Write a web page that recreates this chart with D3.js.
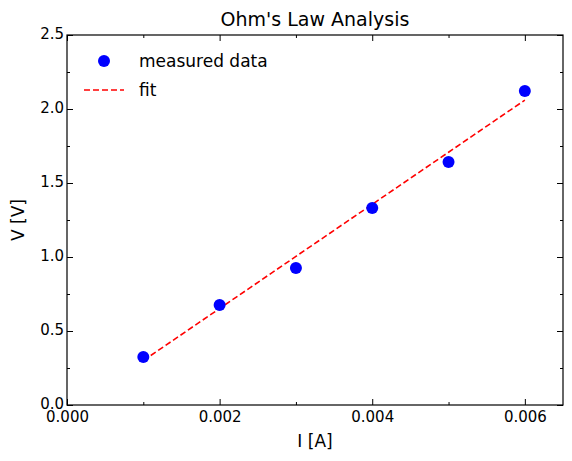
<!DOCTYPE html>
<html><head><meta charset="utf-8">
<script src="https://cdn.jsdelivr.net/npm/d3@7"></script>
<style>body{margin:0;background:#fff}svg{font-family:"DejaVu Sans",sans-serif}</style>
</head><body><svg id="c" width="572" height="461"></svg>
<script>
const current = [0.001, 0.002, 0.003, 0.004, 0.005, 0.006];
const voltage = [0.324, 0.676, 0.926, 1.331, 1.642, 2.122];
const fitV = [0.300, 0.652, 1.004, 1.356, 1.708, 2.060];
const xTicks = [0, 0.002, 0.004, 0.006];
const yTicks = [0, 0.5, 1.0, 1.5, 2.0, 2.5];
const xMinor = [0.001, 0.003, 0.005];
const yMinor = [0.25, 0.75, 1.25, 1.75, 2.25];

const L=67,R=563,T=35,B=405;
const svg=d3.select("#c");
const x=d3.scaleLinear().domain([0,0.0065]).range([L,R]);
const y=d3.scaleLinear().domain([0,2.5]).range([B,T]);
const g=svg.append("g");
function ax(gen,tr,ticks,size,fmt,showLabels){
  const a=g.append("g").attr("transform",tr).call(gen.tickValues(ticks).tickSize(-size).tickSizeOuter(0).tickFormat(showLabels?fmt:""));
  a.attr("font-size",null).attr("font-family",null);
  a.select(".domain").remove();
  a.selectAll("line").attr("stroke","#000").attr("stroke-width",1);
  a.selectAll("text").style("font-size","15px").attr("fill","#000");
  return a;
}
const fx=d3.format(".3f"), fy=d3.format(".1f");
ax(d3.axisBottom(x),`translate(0,${B})`,xTicks,6,fx,true).selectAll("text").attr("dy","0.9em");
ax(d3.axisBottom(x),`translate(0,${B})`,xMinor,3,fx,false);
ax(d3.axisTop(x),`translate(0,${T})`,xTicks,6,fx,false);
ax(d3.axisTop(x),`translate(0,${T})`,xMinor,3,fx,false);
ax(d3.axisLeft(y),`translate(${L},0)`,yTicks,6,fy,true).selectAll("text").attr("dy","0.2em");
ax(d3.axisLeft(y),`translate(${L},0)`,yMinor,3,fy,false);
ax(d3.axisRight(y),`translate(${R},0)`,yTicks,6,fy,false);
ax(d3.axisRight(y),`translate(${R},0)`,yMinor,3,fy,false);
g.append("rect").attr("x",L).attr("y",T).attr("width",R-L).attr("height",B-T).attr("fill","none").attr("stroke","#000").attr("stroke-width",1.2);

svg.append("path").datum(current.map((c,i)=>[c,fitV[i]]))
  .attr("d",d3.line().x(d=>x(d[0])).y(d=>y(d[1])))
  .attr("fill","none").attr("stroke","#ff0000").attr("stroke-width",1.6).attr("stroke-dasharray","6,3");
svg.selectAll("circle.p").data(current).join("circle").attr("class","p")
  .attr("cx",d=>x(d)).attr("cy",(d,i)=>y(voltage[i])).attr("r",6).attr("fill","#0000ff");

svg.append("text").attr("x",(L+R)/2).attr("y",26).attr("text-anchor","middle").style("font-size","19px").text("Ohm's Law Analysis");
svg.append("text").attr("x",(L+R)/2).attr("y",447).attr("text-anchor","middle").style("font-size","17px").text("I [A]");
svg.append("text").attr("transform",`translate(24,${(T+B)/2}) rotate(-90)`).attr("text-anchor","middle").style("font-size","17px").text("V [V]");

const lg=svg.append("g");
lg.append("circle").attr("cx",104).attr("cy",61).attr("r",6).attr("fill","#0000ff");
lg.append("text").attr("x",139).attr("y",67).style("font-size","17px").text("measured data");
lg.append("line").attr("x1",84).attr("x2",124).attr("y1",90).attr("y2",90).attr("stroke","#ff0000").attr("stroke-width",1.6).attr("stroke-dasharray","6,3");
lg.append("text").attr("x",139).attr("y",96).style("font-size","17px").text("fit");
</script></body></html>
